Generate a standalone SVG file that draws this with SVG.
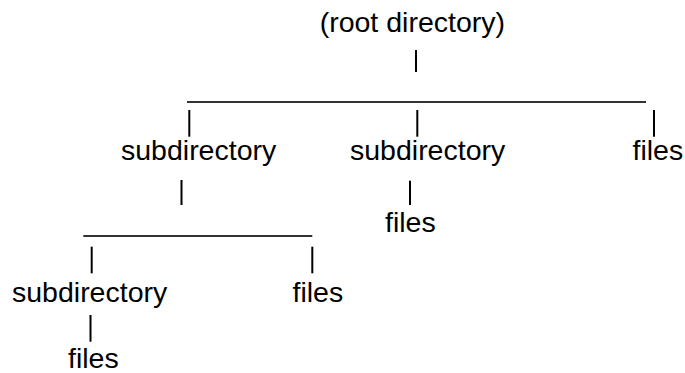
<svg xmlns="http://www.w3.org/2000/svg" width="685" height="373" viewBox="0 0 685 373">
<style>
text { font-family: "Liberation Sans", Arial, sans-serif; font-size: 28.5px; fill: #000; }
.h { stroke: #333; stroke-width: 2; }
.v { stroke: #000; stroke-width: 2; }
</style>
<rect width="685" height="373" fill="#fff"/>
<g id="connectors">
  <line class="v" x1="416" y1="50" x2="416" y2="72"/>
  <line class="h" x1="187" y1="102" x2="646" y2="102"/>
  <line class="v" x1="189.3" y1="110" x2="189.3" y2="136.7"/>
  <line class="v" x1="417.3" y1="110" x2="417.3" y2="136.7"/>
  <line class="v" x1="654" y1="110" x2="654" y2="136.7"/>
  <line class="v" x1="181.5" y1="180" x2="181.5" y2="205"/>
  <line class="v" x1="410" y1="180.7" x2="410" y2="205"/>
  <line class="h" x1="83.3" y1="236" x2="312.3" y2="236"/>
  <line class="v" x1="91.7" y1="246.7" x2="91.7" y2="273.3"/>
  <line class="v" x1="312.3" y1="246.7" x2="312.3" y2="273.3"/>
  <line class="v" x1="90.5" y1="315" x2="90.5" y2="341.7"/>
</g>
<g id="root"><text x="319.7" y="32">(root directory)</text></g>
<g id="subdir1"><text x="121" y="160">subdirectory</text></g>
<g id="subdir2"><text x="350" y="160">subdirectory</text></g>
<g id="files-root"><text x="632.5" y="160">files</text></g>
<g id="files-subdir2"><text x="385" y="232">files</text></g>
<g id="subdir3"><text x="12" y="302">subdirectory</text></g>
<g id="files-subdir1"><text x="292.5" y="302">files</text></g>
<g id="files-subdir3"><text x="68" y="368">files</text></g>
</svg>
